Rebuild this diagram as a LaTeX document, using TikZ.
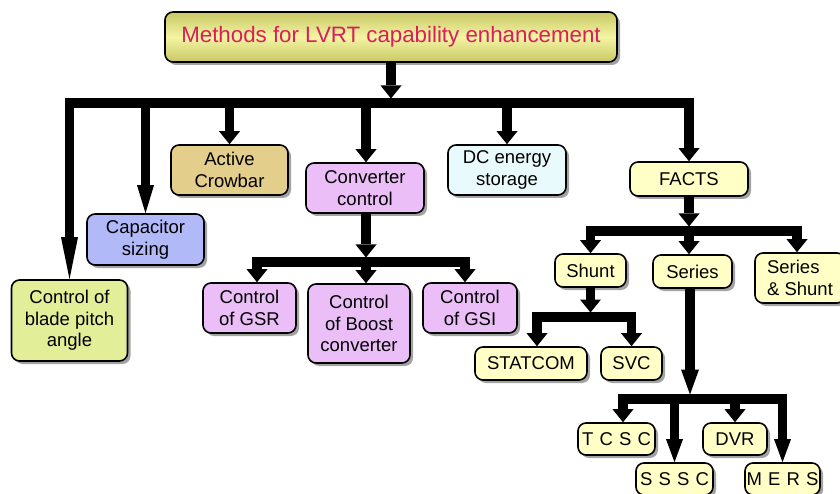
\documentclass[tikz,border=0pt]{standalone}
\usepackage{fontspec}
\setmainfont{Liberation Sans}
\usetikzlibrary{arrows.meta,shadows,calc}
\definecolor{titletop}{HTML}{C8C864}
\definecolor{titlemid}{HTML}{F4F4A4}
\definecolor{titletext}{HTML}{D81E5B}
\definecolor{crowfill}{HTML}{E4CE8C}
\definecolor{convfill}{HTML}{EBBEF7}
\definecolor{dcfill}{HTML}{E9FAFD}
\definecolor{factsfill}{HTML}{FFFFC6}
\definecolor{capfill}{HTML}{B1B9F9}
\definecolor{bladefill}{HTML}{E2EE98}
\tikzset{
  tipS/.tip={Triangle[length=13pt,width=21pt,line width=0pt]},
  tipM/.tip={Triangle[length=28pt,width=17pt,line width=0pt]},
  tipL/.tip={Triangle[length=42pt,width=17pt,line width=0pt]},
  tipR/.tip={Triangle[length=25pt,width=18pt,line width=0pt]},
  tipB/.tip={Triangle[length=23pt,width=17pt,line width=0pt]},
  box/.style={draw=black, line width=1.6pt, rounded corners=8pt, inner sep=0pt,
    align=center, font=\fontsize{18.5}{21.5}\selectfont,
    drop shadow={shadow xshift=3pt, shadow yshift=-3pt, fill=black!60, opacity=0.6}},
  conn/.style={draw=black, line width=9.5pt, line join=miter, line cap=butt},
}
\begin{document}
\begin{tikzpicture}[x=1pt,y=-1pt]
\path[use as bounding box, clip] (0,0) rectangle (840,494);
% nodes
\node[box, minimum width=452pt, minimum height=50pt, top color=titletop, bottom color=titletop,
  middle color=titlemid, text=titletext, font=\fontsize{22.3}{26}\selectfont]
  (title) at (391,37) {Methods for LVRT capability enhancement};
\node[box, fill=bladefill, minimum width=116pt, minimum height=81pt] (blade) at (69.5,320.5) {Control of\\blade pitch\\angle};
\node[box, fill=capfill, minimum width=117pt, minimum height=51pt] (cap) at (145.5,239.5) {Capacitor\\sizing};
\node[box, fill=crowfill, minimum width=117pt, minimum height=50pt] (crow) at (229.5,170) {Active\\Crowbar};
\node[box, fill=convfill, minimum width=118pt, minimum height=50pt] (conv) at (365,188) {Converter\\control};
\node[box, fill=dcfill, minimum width=118pt, minimum height=50pt] (dc) at (507,170) {DC energy\\storage};
\node[box, fill=factsfill, minimum width=118pt, minimum height=34pt] (facts) at (689,179) {FACTS};
\node[box, fill=convfill, minimum width=93pt, minimum height=50pt] (gsr) at (249.5,308) {Control\\of GSR};
\node[box, fill=convfill, minimum width=102pt, minimum height=79pt] (boost) at (359,323.5) {Control\\of Boost\\converter};
\node[box, fill=convfill, minimum width=94pt, minimum height=50pt] (gsi) at (470,308) {Control\\of GSI};
\node[box, fill=factsfill, minimum width=71pt, minimum height=33pt] (shunt) at (590.5,270.5) {Shunt};
\node[box, fill=factsfill, minimum width=79pt, minimum height=33pt] (series) at (692.5,271.5) {Series};
\node[box, fill=factsfill, minimum width=90pt, minimum height=50pt, align=left] (sershunt) at (800,278) {Series\\\& Shunt};
\node[box, fill=factsfill, minimum width=112pt, minimum height=33pt] (statcom) at (531,363.5) {STATCOM};
\node[box, fill=factsfill, minimum width=61pt, minimum height=33pt] (svc) at (631.5,363.5) {SVC};
\node[box, fill=factsfill, minimum width=77pt, minimum height=32pt] (tcsc) at (616.5,439) {T\,\,C\,\,S\,\,C};
\node[box, fill=factsfill, minimum width=77pt, minimum height=32pt] (sssc) at (674.5,479) {S\,\,S\,\,S\,\,C};
\node[box, fill=factsfill, minimum width=64pt, minimum height=32pt] (dvr) at (735,439) {DVR};
\node[box, fill=factsfill, minimum width=75pt, minimum height=32pt] (mers) at (782.5,479) {M\,\,E\,\,R\,\,S};
% junction coordinates
\coordinate (mb) at (391,103);
\coordinate (mbtop) at (391,98.5);
\coordinate (cb) at (366,262);
\coordinate (cbtop) at (366,257.5);
\coordinate (fb) at (689,231);
\coordinate (fbtop) at (689,226.5);
\coordinate (sb) at (590.5,317);
\coordinate (sbtop) at (590.5,312.5);
\coordinate (rb) at (690,399);
\coordinate (rbtop) at (690,394.5);
% main level
\draw[conn,-{tipS}] (title.south) -- (mbtop);
\draw[conn,-{tipL}] (mb) -| (blade.north);
\draw[conn,-{tipS}] (mb) -| (facts.north);
\draw[conn,-{tipM}] (mb -| cap.north) -- (cap.north);
\draw[conn,-{tipS}] (mb -| crow.north) -- (crow.north);
\draw[conn,-{tipS}] (mb -| cbtop) -- (cbtop |- conv.north);
\draw[conn,-{tipS}] (mb -| dc.north) -- (dc.north);
% converter control
\draw[conn,-{tipS}] (cbtop |- conv.south) -- (cbtop);
\draw[conn,-{tipS}] (cb) -| ([xshift=7.5pt]gsr.north);
\draw[conn,-{tipS}] (cb) -- (cb |- boost.north);
\draw[conn,-{tipS}] (cb) -| ([xshift=-5pt]gsi.north);
% FACTS
\draw[conn,-{tipS}] (facts.south) -- (fbtop);
\draw[conn,-{tipS}] (fb) -| (shunt.north);
\draw[conn,-{tipS}] (fb) -- (fb |- series.north);
\draw[conn,-{tipS}] (fb) -| ([xshift=-3pt]sershunt.north);
% shunt
\draw[conn,-{tipS}] (shunt.south) -- (sbtop);
\draw[conn,-{tipS}] (sb) -| ([xshift=6pt]statcom.north);
\draw[conn,-{tipS}] (sb) -| (svc.north);
% series
\draw[conn,-{tipR}] (rbtop |- series.south) -- (rbtop);
\draw[conn,-{tipS}] (rb) -| ([xshift=6.5pt]tcsc.north);
\draw[conn,-{tipB}] (rb) -| (sssc.north);
\draw[conn,-{tipS}] (rb) -| (dvr.north);
\draw[conn,-{tipB}] (rb) -| (mers.north);
\end{tikzpicture}
\end{document}
